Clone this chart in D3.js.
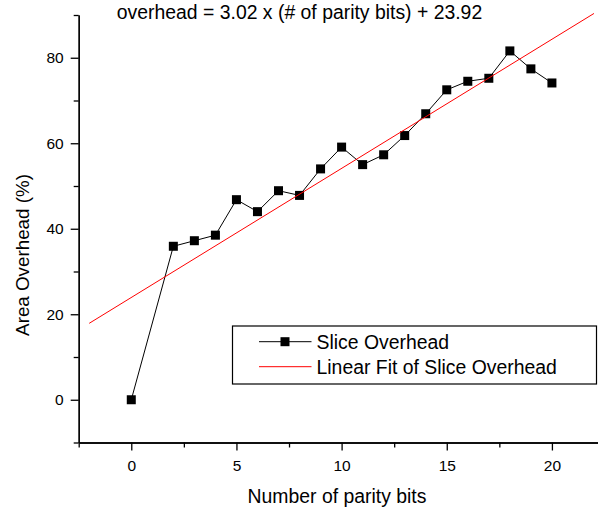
<!DOCTYPE html>
<html>
<head>
<meta charset="utf-8">
<script src="https://cdn.jsdelivr.net/npm/d3@7"></script>
<style>
  body { margin: 0; background: #fff; }
  svg { display: block; font-family: "Liberation Sans", Arial, sans-serif; }
</style>
</head>
<body>
<script>
const width = 598;
const height = 514;

// data
const bits = [0, 2, 3, 4, 5, 6, 7, 8, 9, 10, 11, 12, 13, 14, 15, 16, 17, 18, 19, 20];
const overhead = [0, 35.9, 37.2, 38.5, 46.8, 44.0, 48.9, 47.8, 54.0, 59.1, 55.0, 57.3, 61.8, 66.9, 72.5, 74.5, 75.2, 81.6, 77.4, 74.1];
const fitSlope = 3.02;
const fitIntercept = 23.92;
const fitRange = [-2, 22];

const xTicks = [0, 5, 10, 15, 20];
const xMinor = [-2.5, 2.5, 7.5, 12.5, 17.5, 22.5];
const yTicks = [0, 20, 40, 60, 80];
const yMinor = [-10, 10, 30, 50, 70, 90];

const title = 'overhead = 3.02 x (# of parity bits) + 23.92';
const xLabel = 'Number of parity bits';
const yLabel = 'Area Overhead (%)';
const legendNames = ['Slice Overhead', 'Linear Fit of Slice Overhead'];

const labelSize = 19.4;

function main() {
  const svg = d3.select('body').append('svg').attr('width', width).attr('height', height);

  const xScale = d3.scaleLinear().domain([-2.5, 22.5]).range([78.7, 604.5]);
  const yScale = d3.scaleLinear().domain([-10, 90]).range([442.5, 15]);

  drawAxes(svg, xScale, yScale);

  const points = bits.map((b, i) => ({ x: b, y: overhead[i] }));
  const line = d3.line().x(d => xScale(d.x)).y(d => yScale(d.y));

  svg.append('path')
    .datum(points)
    .attr('d', line)
    .attr('fill', 'none')
    .attr('stroke', '#000')
    .attr('stroke-width', 1);

  svg.selectAll('rect.pt')
    .data(points)
    .enter()
    .append('rect')
    .attr('class', 'pt')
    .attr('x', d => xScale(d.x) - 4.5)
    .attr('y', d => yScale(d.y) - 4.5)
    .attr('width', 9)
    .attr('height', 9)
    .attr('fill', '#000');

  const fit = fitRange.map(x => ({ x, y: fitSlope * x + fitIntercept }));
  svg.append('path')
    .datum(fit)
    .attr('d', line)
    .attr('fill', 'none')
    .attr('stroke', '#ff0000')
    .attr('stroke-width', 1);

  svg.append('text')
    .attr('x', 299.5)
    .attr('y', 18.5)
    .attr('text-anchor', 'middle')
    .attr('font-size', labelSize)
    .text(title);

  svg.append('text')
    .attr('x', 337)
    .attr('y', 503)
    .attr('text-anchor', 'middle')
    .attr('font-size', labelSize)
    .text(xLabel);

  svg.append('text')
    .attr('transform', 'translate(28.5,255) rotate(-90)')
    .attr('text-anchor', 'middle')
    .attr('font-size', 18.8)
    .text(yLabel);

  drawLegend(svg);
}

function drawAxes(svg, xScale, yScale) {
  svg.append('g')
    .attr('transform', 'translate(0,442.5)')
    .call(d3.axisBottom(xScale).tickValues(xTicks).tickSize(8).tickSizeOuter(0).tickPadding(9.5));
  svg.append('g')
    .attr('transform', 'translate(0,442.5)')
    .call(d3.axisBottom(xScale).tickValues(xMinor).tickSize(5).tickSizeOuter(0).tickFormat(''));

  svg.append('g')
    .attr('transform', 'translate(78.7,0)')
    .call(d3.axisLeft(yScale).tickValues(yTicks).tickSize(8).tickSizeOuter(0).tickPadding(7));
  svg.append('g')
    .attr('transform', 'translate(78.7,0)')
    .call(d3.axisLeft(yScale).tickValues(yMinor).tickSize(5).tickSizeOuter(0).tickFormat(''));

  svg.selectAll('.domain, .tick line').attr('stroke', '#000').attr('stroke-width', 1.3);
  svg.selectAll('.tick text')
    .attr('fill', '#000')
    .attr('font-size', 15.5)
    .attr('font-family', '"Liberation Sans", Arial, sans-serif');
}

function drawLegend(svg) {
  const g = svg.append('g');
  g.append('rect')
    .attr('x', 232.5)
    .attr('y', 326)
    .attr('width', 364)
    .attr('height', 58)
    .attr('fill', '#fff')
    .attr('stroke', '#000')
    .attr('stroke-width', 1.2);

  const rows = [341.7, 366.7];
  const colors = ['#000', '#ff0000'];

  legendNames.forEach((name, i) => {
    g.append('line')
      .attr('x1', 259).attr('x2', 311.5)
      .attr('y1', rows[i]).attr('y2', rows[i])
      .attr('stroke', colors[i])
      .attr('stroke-width', 1);
    if (i === 0) {
      g.append('rect')
        .attr('x', 285 - 4.5).attr('y', rows[i] - 4.5)
        .attr('width', 9).attr('height', 9)
        .attr('fill', '#000');
    }
    g.append('text')
      .attr('x', 316.5)
      .attr('y', rows[i] + 6.8)
      .attr('font-size', labelSize)
      .text(name);
  });
}

main();
</script>
</body>
</html>
